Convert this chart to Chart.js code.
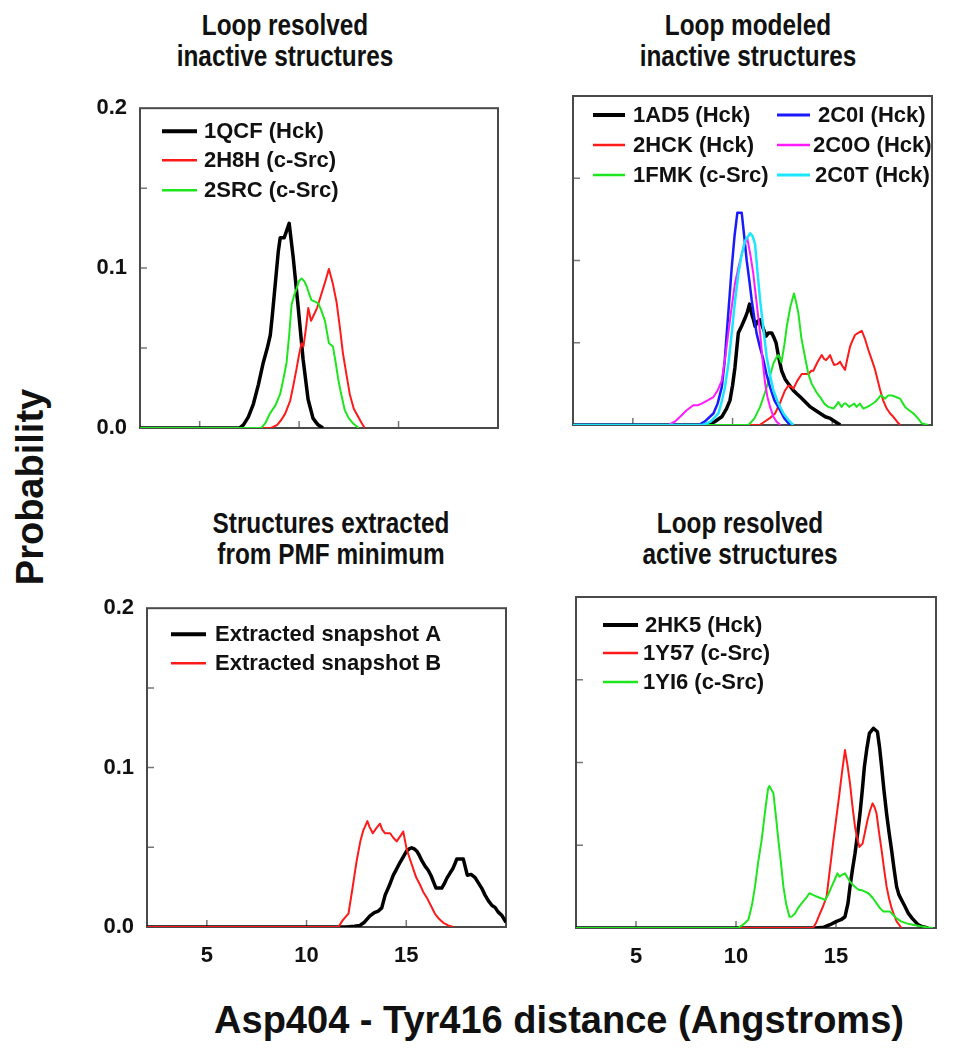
<!DOCTYPE html>
<html>
<head>
<meta charset="utf-8">
<script src="https://cdn.jsdelivr.net/npm/chart.js@4.4.0/dist/chart.umd.min.js"></script>
<style>
  html, body { margin: 0; padding: 0; background: #fff; }
  body { width: 953px; height: 1050px; position: relative; overflow: hidden; font-family: "Liberation Sans", Arial, sans-serif; color: #111; }
  canvas { position: absolute; }
  .ptitle { position: absolute; width: 400px; text-align: center; font-family: "Liberation Sans", Arial, sans-serif; font-weight: bold; font-size: 29px; line-height: 31px; color: #111; transform: scaleX(0.84); transform-origin: 50% 50%; }
  .ytitle { position: absolute; left: 30px; top: 487px; transform: translate(-50%, -50%) rotate(-90deg); font-weight: bold; font-size: 38px; white-space: nowrap; color: #111; }
  .xtitle { position: absolute; left: 559px; top: 1020px; transform: translate(-50%, -50%); font-weight: bold; font-size: 38px; white-space: nowrap; color: #111; }
</style>
</head>
<body>
<div class="ptitle" style="left:85px; top:10px;">Loop resolved<br>inactive structures</div>
<div class="ptitle" style="left:548px; top:10px;">Loop modeled<br>inactive structures</div>
<div class="ptitle" style="left:131px; top:508px;">Structures extracted<br>from PMF minimum</div>
<div class="ptitle" style="left:540px; top:508px;">Loop resolved<br>active structures</div>
<div class="ytitle">Probability</div>
<div class="xtitle">Asp404 - Tyr416 distance (Angstroms)</div>

<canvas id="cTL"></canvas>
<canvas id="cTR"></canvas>
<canvas id="cBL"></canvas>
<canvas id="cBR"></canvas>

<script>
// ---------------- DATA ----------------
const xTicks = [5, 10, 15];
const yTicks = [0, 0.05, 0.1, 0.15, 0.2];
const yTickLabels = { 0: "0.0", 0.1: "0.1", 0.2: "0.2" };

// Panel 1: Loop resolved inactive structures
const s1QCF = [[2,0],[7.0,0],[7.2,0.002],[7.45,0.007],[7.7,0.015],[7.95,0.027],[8.2,0.041],[8.4,0.050],[8.55,0.058],[8.65,0.070],[8.8,0.090],[8.95,0.110],[9.05,0.119],[9.25,0.119],[9.5,0.128],[9.7,0.107],[9.95,0.076],[10.2,0.043],[10.45,0.018],[10.7,0.006],[10.95,0.002],[11.2,0]];
const s2H8H = [[2,0],[8.6,0],[8.9,0.002],[9.1,0.005],[9.3,0.009],[9.55,0.017],[9.7,0.026],[9.87,0.037],[10.0,0.046],[10.12,0.053],[10.22,0.051],[10.35,0.063],[10.46,0.075],[10.6,0.067],[10.75,0.071],[10.9,0.075],[11.05,0.081],[11.2,0.087],[11.35,0.093],[11.5,0.0995],[11.7,0.090],[11.88,0.079],[12.05,0.063],[12.2,0.047],[12.4,0.032],[12.55,0.021],[12.75,0.012],[12.97,0.007],[13.15,0.003],[13.3,0]];
const s2SRC = [[2,0],[8.1,0],[8.3,0.003],[8.53,0.009],[8.8,0.014],[9.04,0.021],[9.2,0.030],[9.37,0.041],[9.5,0.058],[9.62,0.077],[9.75,0.083],[9.87,0.087],[10.0,0.092],[10.12,0.0935],[10.25,0.092],[10.37,0.089],[10.5,0.084],[10.62,0.080],[10.8,0.079],[10.96,0.078],[11.1,0.074],[11.3,0.067],[11.5,0.053],[11.7,0.051],[11.85,0.040],[11.96,0.031],[12.1,0.022],[12.3,0.011],[12.5,0.006],[12.7,0.003],[13.0,0]];

// Panel 2: Loop modeled inactive structures
const s1AD5 = [[2,0],[8.8,0],[9.1,0.002],[9.46,0.005],[9.7,0.010],[9.87,0.015],[10.0,0.024],[10.12,0.035],[10.2,0.045],[10.29,0.056],[10.45,0.060],[10.63,0.065],[10.75,0.069],[10.85,0.0735],[10.95,0.068],[11.05,0.064],[11.13,0.060],[11.25,0.063],[11.38,0.064],[11.5,0.060],[11.68,0.054],[11.8,0.056],[11.96,0.056],[12.08,0.053],[12.18,0.050],[12.3,0.042],[12.46,0.033],[12.63,0.028],[12.8,0.025],[13.05,0.021],[13.22,0.019],[13.4,0.017],[13.65,0.014],[13.9,0.011],[14.15,0.009],[14.4,0.007],[14.65,0.005],[14.9,0.004],[15.15,0.002],[15.4,0]];
const s2HCK = [[2,0],[11.35,0],[11.6,0.002],[11.85,0.004],[12.13,0.007],[12.4,0.014],[12.63,0.021],[12.8,0.024],[12.97,0.023],[13.05,0.022],[13.25,0.027],[13.47,0.031],[13.65,0.031],[13.8,0.031],[13.95,0.033],[14.05,0.033],[14.25,0.038],[14.47,0.0425],[14.6,0.040],[14.69,0.0395],[14.8,0.041],[14.89,0.0425],[15.0,0.039],[15.09,0.0365],[15.25,0.037],[15.39,0.0385],[15.5,0.036],[15.64,0.0335],[15.75,0.040],[15.89,0.0476],[16.0,0.051],[16.14,0.0547],[16.3,0.056],[16.48,0.0573],[16.65,0.052],[16.81,0.0456],[17.0,0.039],[17.15,0.0334],[17.28,0.027],[17.4,0.0213],[17.55,0.015],[17.73,0.010],[17.9,0.007],[18.06,0.005],[18.25,0.002],[18.4,0]];
const s1FMK = [[2,0],[10.8,0],[11.1,0.004],[11.38,0.011],[11.55,0.017],[11.71,0.023],[11.88,0.030],[12.05,0.0375],[12.2,0.041],[12.3,0.0425],[12.45,0.038],[12.6,0.049],[12.72,0.060],[12.9,0.072],[13.08,0.080],[13.2,0.074],[13.3,0.068],[13.45,0.053],[13.66,0.0395],[13.8,0.031],[13.97,0.025],[14.2,0.020],[14.39,0.017],[14.6,0.013],[14.8,0.011],[15.06,0.010],[15.2,0.012],[15.3,0.014],[15.47,0.011],[15.6,0.013],[15.69,0.013],[15.85,0.011],[15.97,0.012],[16.1,0.013],[16.22,0.011],[16.38,0.013],[16.56,0.010],[16.75,0.011],[16.9,0.012],[17.15,0.014],[17.3,0.016],[17.43,0.018],[17.55,0.017],[17.65,0.016],[17.8,0.018],[17.98,0.018],[18.2,0.017],[18.4,0.016],[18.55,0.013],[18.65,0.011],[18.85,0.009],[19.07,0.007],[19.3,0.004],[19.49,0.001],[19.82,0]];
const s2C0I = [[2,0],[8.3,0],[8.6,0.002],[9.04,0.007],[9.25,0.013],[9.46,0.023],[9.6,0.038],[9.71,0.056],[9.85,0.078],[9.96,0.096],[10.1,0.115],[10.24,0.129],[10.46,0.129],[10.6,0.113],[10.71,0.100],[10.85,0.087],[10.96,0.076],[11.2,0.056],[11.38,0.047],[11.54,0.040],[11.7,0.031],[11.88,0.023],[12.1,0.015],[12.38,0.009],[12.6,0.004],[12.88,0]];
const s2C0O = [[2,0],[6.8,0],[7.1,0.002],[7.37,0.005],[7.7,0.009],[8.03,0.012],[8.25,0.012],[8.45,0.013],[8.75,0.015],[9.04,0.017],[9.25,0.021],[9.46,0.027],[9.62,0.040],[9.79,0.056],[9.95,0.071],[10.12,0.086],[10.3,0.096],[10.46,0.104],[10.6,0.110],[10.74,0.1135],[10.9,0.103],[11.04,0.092],[11.2,0.075],[11.38,0.056],[11.5,0.040],[11.63,0.0255],[11.75,0.017],[11.88,0.011],[12.05,0.005],[12.21,0.002],[12.4,0]];
const s2C0T = [[2,0],[8.5,0],[8.9,0.002],[9.29,0.007],[9.45,0.014],[9.62,0.023],[9.8,0.038],[9.96,0.056],[10.12,0.075],[10.29,0.092],[10.45,0.103],[10.63,0.112],[10.88,0.1165],[11.0,0.115],[11.13,0.110],[11.25,0.093],[11.38,0.076],[11.55,0.058],[11.71,0.0415],[11.88,0.030],[12.05,0.021],[12.3,0.013],[12.55,0.007],[12.8,0.003],[13.05,0]];

// Panel 3: Structures extracted from PMF minimum
const sSnapA = [[2,0],[12.0,0],[12.4,0.0005],[12.68,0.001],[12.9,0.003],[13.18,0.007],[13.4,0.009],[13.6,0.010],[13.77,0.012],[13.94,0.020],[14.15,0.026],[14.35,0.0325],[14.5,0.036],[14.69,0.0406],[14.85,0.044],[15.02,0.0477],[15.15,0.049],[15.27,0.0497],[15.4,0.049],[15.52,0.0477],[15.65,0.045],[15.78,0.0416],[15.95,0.038],[16.1,0.0356],[16.25,0.032],[16.36,0.0285],[16.49,0.0244],[16.65,0.0244],[16.78,0.0244],[16.9,0.027],[17.03,0.0305],[17.2,0.034],[17.33,0.0365],[17.45,0.040],[17.53,0.0426],[17.7,0.0426],[17.86,0.0426],[17.95,0.038],[18.06,0.0325],[18.25,0.033],[18.45,0.031],[18.6,0.028],[18.78,0.0244],[18.95,0.020],[19.12,0.0164],[19.3,0.0135],[19.45,0.0123],[19.6,0.0095],[19.79,0.0073],[20.0,0.003]];
const sSnapB = [[2,0],[11.6,0],[11.8,0.004],[12.0,0.007],[12.1,0.0083],[12.3,0.024],[12.5,0.0406],[12.7,0.054],[12.85,0.0608],[12.93,0.063],[13.05,0.0664],[13.15,0.063],[13.32,0.0588],[13.5,0.062],[13.68,0.0648],[13.8,0.061],[13.94,0.0588],[14.19,0.0588],[14.35,0.056],[14.52,0.0537],[14.7,0.057],[14.85,0.0598],[15.02,0.0487],[15.2,0.042],[15.35,0.0365],[15.5,0.031],[15.69,0.0265],[15.85,0.022],[16.03,0.0184],[16.25,0.013],[16.44,0.0083],[16.65,0.005],[16.86,0.0026],[17.1,0.001],[17.36,0]];

// Panel 4: Loop resolved active structures
const s2HK5 = [[2,0],[14.0,0],[14.4,0.0005],[14.7,0.002],[15.03,0.004],[15.25,0.005],[15.45,0.0068],[15.6,0.015],[15.7,0.025],[15.82,0.035],[15.95,0.045],[16.08,0.057],[16.2,0.069],[16.32,0.084],[16.42,0.0975],[16.55,0.109],[16.67,0.1176],[16.87,0.1207],[17.07,0.1186],[17.18,0.109],[17.28,0.0975],[17.4,0.083],[17.53,0.069],[17.65,0.058],[17.78,0.047],[17.9,0.036],[18.03,0.025],[18.15,0.020],[18.28,0.0169],[18.45,0.013],[18.62,0.0088],[18.8,0.006],[18.95,0.004],[19.1,0.002],[19.28,0.001],[19.6,0]];
const s1Y57 = [[2,0],[13.85,0],[14.0,0.003],[14.2,0.0088],[14.35,0.013],[14.53,0.019],[14.7,0.036],[14.87,0.053],[15.0,0.065],[15.17,0.081],[15.3,0.094],[15.45,0.1075],[15.58,0.098],[15.7,0.0874],[15.82,0.074],[15.95,0.0612],[16.05,0.055],[16.17,0.049],[16.33,0.051],[16.45,0.058],[16.57,0.065],[16.7,0.071],[16.83,0.0753],[16.93,0.073],[17.03,0.069],[17.15,0.058],[17.28,0.047],[17.4,0.036],[17.53,0.025],[17.65,0.018],[17.78,0.012],[17.9,0.008],[18.03,0.004],[18.15,0.002],[18.28,0]];
const s1YI6 = [[2,0],[10.1,0],[10.35,0.002],[10.62,0.005],[10.8,0.014],[10.95,0.025],[11.1,0.039],[11.28,0.053],[11.45,0.070],[11.6,0.084],[11.67,0.0858],[11.8,0.083],[11.87,0.0814],[12.0,0.067],[12.12,0.053],[12.25,0.039],[12.37,0.025],[12.5,0.015],[12.67,0.0068],[12.8,0.007],[12.95,0.0088],[13.1,0.012],[13.28,0.0149],[13.5,0.018],[13.67,0.021],[13.85,0.020],[14.03,0.019],[14.25,0.018],[14.45,0.0169],[14.6,0.020],[14.78,0.025],[14.93,0.029],[15.07,0.033],[15.18,0.031],[15.28,0.032],[15.45,0.033],[15.55,0.031],[15.7,0.028],[15.85,0.026],[16.03,0.024],[16.15,0.023],[16.28,0.0229],[16.45,0.022],[16.62,0.021],[16.85,0.018],[17.03,0.0149],[17.2,0.012],[17.37,0.0099],[17.55,0.0099],[17.7,0.0099],[17.85,0.008],[18.03,0.0058],[18.25,0.004],[18.53,0.0028],[18.85,0.002],[19.2,0.001],[19.5,0.0005],[19.85,0]];

// ---------------- STYLE / LAYOUT ----------------
const C = { black: "#000000", red: "#ff1a1a", green: "#1ee61e", blue: "#1a1aff", magenta: "#ff1aff", cyan: "#1ae6ff" };
const TICK_FONT = { family: "'Liberation Sans', Arial, sans-serif", size: 22, weight: "bold" };
const LEG_FONT = "bold 22px 'Liberation Sans', Arial, sans-serif";
const PAD_L = 70, PAD_T = 15, PAD_R = 15, PAD_B = 50;

function ds(label, pts, color, width) {
  return { label, data: pts.map(p => ({ x: p[0], y: p[1] })), borderColor: color, borderWidth: width };
}

const framePlugin = {
  id: "frame",
  beforeDatasetsDraw(chart) {
    const { ctx, chartArea: a, scales } = chart;
    ctx.save();
    ctx.strokeStyle = "#777";
    ctx.lineWidth = 1.5;
    ctx.beginPath();
    xTicks.forEach(v => { const px = scales.x.getPixelForValue(v); ctx.moveTo(px, a.bottom); ctx.lineTo(px, a.bottom - 7); });
    yTicks.forEach(v => { if (v > 0 && v < 0.2) { const py = scales.y.getPixelForValue(v); ctx.moveTo(a.left, py); ctx.lineTo(a.left + 7, py); } });
    ctx.stroke();
    ctx.strokeStyle = "#4a4a4a";
    ctx.lineWidth = 2;
    ctx.strokeRect(a.left, a.top, a.right - a.left, a.bottom - a.top);
    ctx.restore();
  }
};

const legendPlugin = {
  id: "panelLegend",
  afterDraw(chart, args, opts) {
    const { ctx, chartArea: a } = chart;
    ctx.save();
    ctx.font = LEG_FONT;
    ctx.textBaseline = "middle";
    ctx.fillStyle = "#111";
    (opts.items || []).forEach(it => {
      const d = chart.data.datasets[it.i];
      ctx.strokeStyle = d.borderColor;
      ctx.lineWidth = d.borderWidth + 0.5;
      ctx.beginPath();
      ctx.moveTo(a.left + it.x1, a.top + it.y);
      ctx.lineTo(a.left + it.x2, a.top + it.y);
      ctx.stroke();
      ctx.fillText(d.label, a.left + it.tx, a.top + it.y + 1);
    });
    ctx.restore();
  }
};

function makePanel(id, box, datasets, showX, showY, legendItems) {
  const cv = document.getElementById(id);
  const w = (box.R - box.L) + PAD_L + PAD_R;
  const h = (box.B - box.T) + PAD_T + PAD_B;
  cv.width = w; cv.height = h;
  cv.style.left = (box.L - PAD_L) + "px";
  cv.style.top = (box.T - PAD_T) + "px";
  cv.style.width = w + "px"; cv.style.height = h + "px";
  const n = datasets.length;
  datasets.forEach((d, i) => { d.order = n - i; });
  new Chart(cv, {
    type: "line",
    data: { datasets },
    options: {
      responsive: false,
      animation: false,
      devicePixelRatio: 1,
      layout: { padding: { top: PAD_T, right: PAD_R, left: 0, bottom: 0 } },
      elements: { point: { radius: 0 }, line: { tension: 0, fill: false, borderJoinStyle: "round" } },
      plugins: { legend: { display: false }, tooltip: { enabled: false }, panelLegend: { items: legendItems } },
      scales: {
        x: {
          type: "linear", min: 2, max: 20,
          afterBuildTicks: s => { s.ticks = xTicks.map(v => ({ value: v })); },
          afterFit: s => { s.height = PAD_B; },
          grid: { display: false, drawTicks: false },
          border: { display: false },
          ticks: { display: showX, font: TICK_FONT, color: "#111", padding: 16, maxRotation: 0, autoSkip: false, callback: v => String(v) }
        },
        y: {
          type: "linear", min: 0, max: 0.2,
          afterBuildTicks: s => { s.ticks = yTicks.map(v => ({ value: v })); },
          afterFit: s => { s.width = PAD_L; },
          grid: { display: false, drawTicks: false },
          border: { display: false },
          ticks: { display: showY, font: TICK_FONT, color: "#111", padding: 13, autoSkip: false, callback: v => (yTickLabels[v] !== undefined ? yTickLabels[v] : "") }
        }
      }
    },
    plugins: [framePlugin, legendPlugin]
  });
}

makePanel("cTL", { L: 140, T: 97, R: 498, B: 428 },
  [ds("1QCF (Hck)", s1QCF, C.black, 3.5), ds("2H8H (c-Src)", s2H8H, C.red, 2), ds("2SRC (c-Src)", s2SRC, C.green, 2)],
  false, true,
  [{ i: 0, y: 23, x1: 22, x2: 57, tx: 64 }, { i: 1, y: 52, x1: 22, x2: 57, tx: 64 }, { i: 2, y: 82, x1: 22, x2: 57, tx: 64 }]);

makePanel("cTR", { L: 573, T: 96, R: 932, B: 425 },
  [ds("1AD5 (Hck)", s1AD5, C.black, 3.5), ds("2HCK (Hck)", s2HCK, C.red, 2), ds("1FMK (c-Src)", s1FMK, C.green, 2),
   ds("2C0I (Hck)", s2C0I, C.blue, 2.5), ds("2C0O (Hck)", s2C0O, C.magenta, 2), ds("2C0T (Hck)", s2C0T, C.cyan, 2.5)],
  false, false,
  [{ i: 0, y: 19, x1: 20, x2: 52, tx: 60 }, { i: 1, y: 49, x1: 20, x2: 52, tx: 60 }, { i: 2, y: 79, x1: 20, x2: 52, tx: 60 },
   { i: 3, y: 19, x1: 204, x2: 237, tx: 245 }, { i: 4, y: 49, x1: 204, x2: 237, tx: 240 }, { i: 5, y: 79, x1: 204, x2: 237, tx: 242 }]);

makePanel("cBL", { L: 147, T: 597, R: 506, B: 927 },
  [ds("Extracted snapshot A", sSnapA, C.black, 3.5), ds("Extracted snapshot B", sSnapB, C.red, 2)],
  true, true,
  [{ i: 0, y: 26, x1: 24, x2: 59, tx: 68 }, { i: 1, y: 55, x1: 24, x2: 59, tx: 68 }]);

makePanel("cBR", { L: 576, T: 597, R: 936, B: 928 },
  [ds("2HK5 (Hck)", s2HK5, C.black, 3.5), ds("1Y57 (c-Src)", s1Y57, C.red, 2), ds("1YI6 (c-Src)", s1YI6, C.green, 2)],
  true, false,
  [{ i: 0, y: 28, x1: 27, x2: 62, tx: 69 }, { i: 1, y: 56, x1: 27, x2: 62, tx: 67 }, { i: 2, y: 85, x1: 27, x2: 62, tx: 67 }]);
</script>
</body>
</html>
